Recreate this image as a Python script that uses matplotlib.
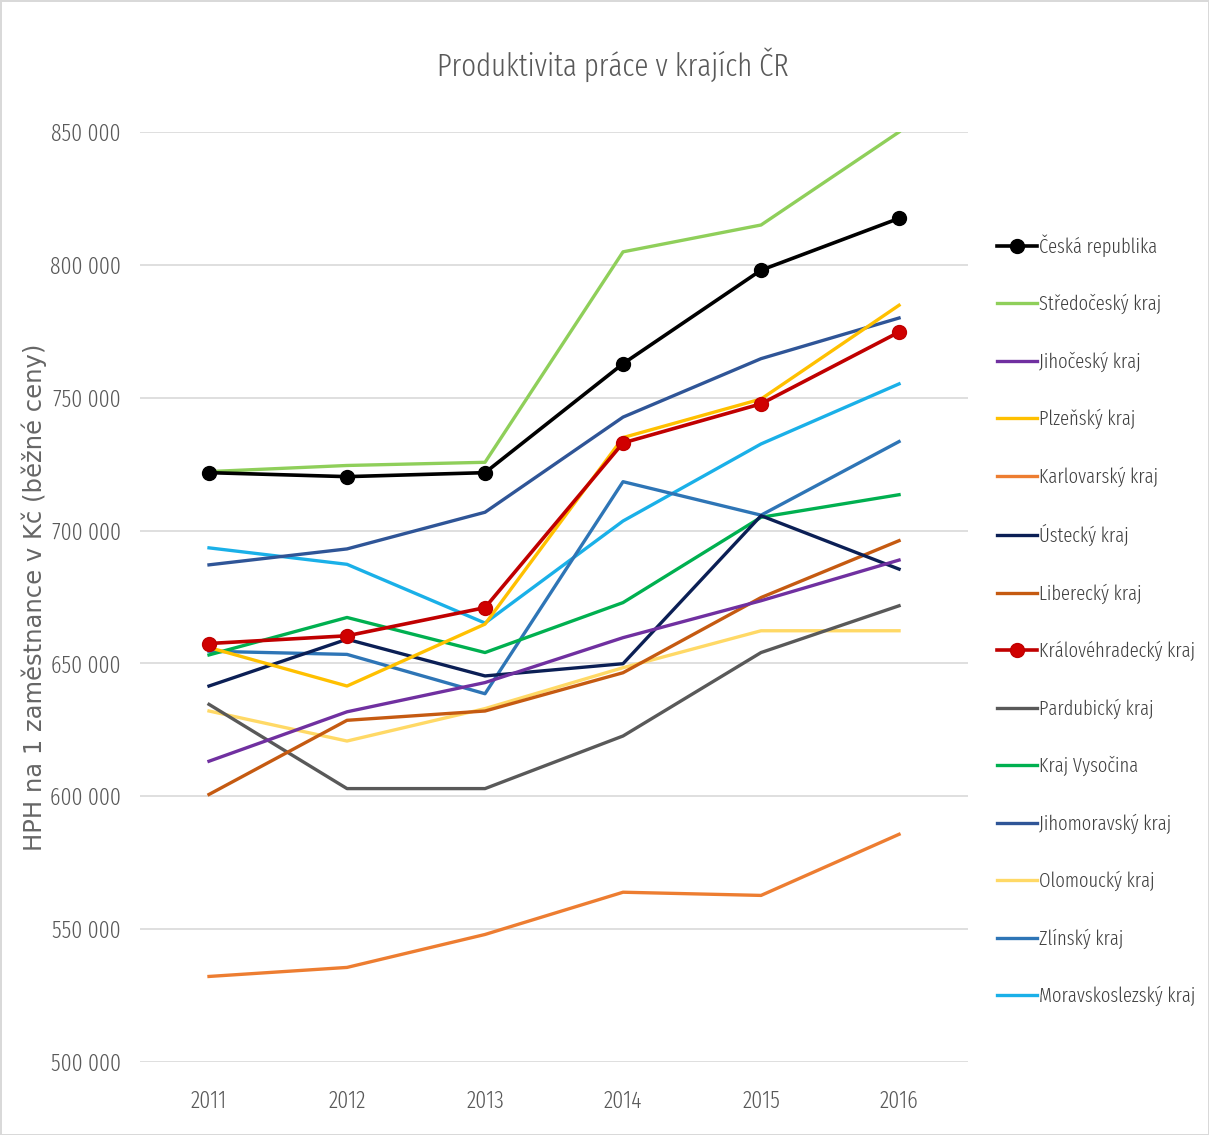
import matplotlib
matplotlib.use("Agg")
import matplotlib.pyplot as plt
from matplotlib.ticker import FuncFormatter

# data (HPH per employee, CZK, current prices)
years = [2011, 2012, 2013, 2014, 2015, 2016]

ceska_republika = [721800, 720300, 721800, 762800, 798000, 817500]
stredocesky = [722200, 724500, 725700, 804900, 815000, 850000]
jihocesky = [613200, 631800, 642800, 659700, 673600, 688900]
plzensky = [656000, 641500, 664800, 735000, 749500, 784800]
karlovarsky = [532200, 535600, 548000, 563900, 562700, 585700]
ustecky = [641500, 659100, 645300, 649900, 705600, 685500]
liberecky = [600700, 628600, 632100, 646500, 674800, 696200]
kralovehradecky = [657500, 660400, 671000, 733000, 747700, 774700]
pardubicky = [634600, 602900, 602900, 622700, 654100, 671700]
vysocina = [653200, 667300, 654100, 672900, 705000, 713500]
jihomoravsky = [687100, 693100, 706900, 742700, 764700, 780000]
olomoucky = [632100, 620800, 633000, 648400, 662300, 662300]
zlinsky = [654600, 653400, 638600, 718400, 705800, 733500]
moravskoslezsky = [693500, 687300, 665200, 703600, 732600, 755200]

series_names = [
    "Česká republika", "Středočeský kraj", "Jihočeský kraj", "Plzeňský kraj",
    "Karlovarský kraj", "Ústecký kraj", "Liberecký kraj", "Královéhradecký kraj",
    "Pardubický kraj", "Kraj Vysočina", "Jihomoravský kraj", "Olomoucký kraj",
    "Zlínský kraj", "Moravskoslezský kraj",
]
series_values = [
    ceska_republika, stredocesky, jihocesky, plzensky, karlovarsky, ustecky,
    liberecky, kralovehradecky, pardubicky, vysocina, jihomoravsky, olomoucky,
    zlinsky, moravskoslezsky,
]
series_colors = [
    "#000000", "#8FCF5A", "#7030A0", "#FFC000", "#ED7D31", "#0B1F55",
    "#C55A11", "#C00000", "#595959", "#00B050", "#2F5597", "#FFD966",
    "#2E75B6", "#1AB0E8",
]

narrow = ["Fira Sans Extra Condensed", "DejaVu Sans"]

fig = plt.figure(figsize=(12.09, 11.35), dpi=100)
fig.patch.set_edgecolor("#D9D9D9")
fig.patch.set_linewidth(2)

ax = fig.add_axes([0.1158, 0.0643, 0.6849, 0.8194])

# draw in reverse so Česká republika sits on top
handles = {}
for name, vals, col in reversed(list(zip(series_names, series_values, series_colors))):
    if name == "Česká republika":
        h, = ax.plot(years, vals, color=col, lw=2.6, marker="o", ms=10, zorder=5)
    elif name == "Královéhradecký kraj":
        h, = ax.plot(years, vals, color=col, lw=2.6, marker="o", ms=10,
                     mfc="#D00000", mec="#C00000", zorder=4)
    else:
        h, = ax.plot(years, vals, color=col, lw=2.4, zorder=3)
    handles[name] = h

ax.set_xlim(2010.5, 2016.5)
ax.set_ylim(500000, 850000)
ax.set_xticks(years)
ax.set_yticks(range(500000, 850001, 50000))
ax.yaxis.set_major_formatter(FuncFormatter(lambda v, p: f"{int(v):,}".replace(",", " ")))

ax.grid(axis="y", color="#D9D9D9", lw=1.2)
ax.set_axisbelow(True)
for s in ax.spines.values():
    s.set_visible(False)
ax.tick_params(length=0, labelsize=17, colors="#595959")
ax.tick_params(axis="y", pad=14)
ax.tick_params(axis="x", pad=20)
for lbl in ax.get_xticklabels() + ax.get_yticklabels():
    lbl.set_family(narrow)
    lbl.set_fontweight(300)

ax.set_ylabel("HPH na 1 zaměstnance v Kč (běžné ceny)", fontsize=17.5, color="#666666",
              family="DejaVu Sans")
ax.yaxis.set_label_coords(-0.112, 0.5)

fig.text(0.507, 0.943, "Produktivita práce v krajích ČR", fontsize=22.5, color="#595959",
         family=narrow, fontweight=300, ha="center", va="center")

leg = fig.legend([handles[n] for n in series_names], series_names,
                 loc="upper left", bbox_to_anchor=(0.8096, 0.8096), frameon=False,
                 handlelength=2.0, handletextpad=0.1, labelspacing=1.84,
                 prop={"family": narrow, "size": 14.5, "weight": 300})
for t in leg.get_texts():
    t.set_color("#404040")

fig.savefig("out.png", dpi=100)
